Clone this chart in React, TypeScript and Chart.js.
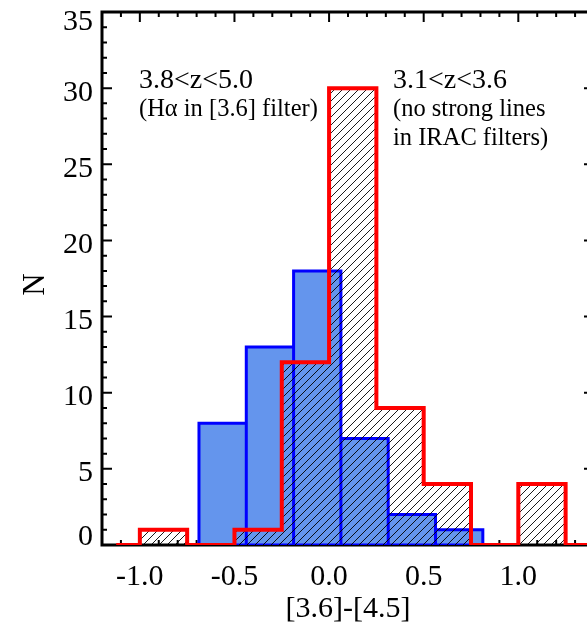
import React, { useEffect, useRef } from "react";
import { Chart, registerables } from "chart.js";

Chart.register(...registerables);

// ---------------- data ----------------
const binWidth = 0.25;
// red histogram (3.1<z<3.6), bins starting at -1.0
const redStart = -1.0;
const redCounts = [1, 0, 1, 12, 30, 9, 4, 0, 4];
// blue histogram (3.8<z<5.0), bins starting at -0.6875
const blueStart = -0.6875;
const blueCounts = [8, 13, 18, 7, 2, 1];

const xMin = -1.2;
const xMax = 1.4;
const yMin = 0;
const yMax = 35;
const xMajorTicks = [-1.0, -0.5, 0.0, 0.5, 1.0];
const xTickLabels = ["-1.0", "-0.5", "0.0", "0.5", "1.0"];
const yMajorTicks = [0, 5, 10, 15, 20, 25, 30, 35];
const yTickLabels = ["0", "5", "10", "15", "20", "25", "30", "35"];
const xTitle = "[3.6]-[4.5]";
const yTitle = "N";
const leftNote = ["3.8<z<5.0", "(H\u03b1 in [3.6] filter)"];
const rightNote = ["3.1<z<3.6", "(no strong lines", "in IRAC filters)"];

// ---------------- helpers ----------------
type Pt = { x: number; y: number };

function stepPoints(start: number, counts: number[], ext: boolean): Pt[] {
  const n = counts.length;
  const pts: Pt[] = [];
  pts.push({ x: ext ? start - binWidth / 2 : start, y: 0 });
  counts.forEach((c, i) => pts.push({ x: start + i * binWidth, y: c }));
  pts.push({ x: start + n * binWidth, y: 0 });
  if (ext) pts.push({ x: start + n * binWidth + binWidth / 2, y: 0 });
  return pts;
}

function barOutlinePoints(start: number, counts: number[]): Pt[] {
  const pts: Pt[] = [{ x: start, y: 0 }];
  counts.forEach((c, i) => {
    const l = start + i * binWidth;
    const r = l + binWidth;
    pts.push({ x: l, y: c });
    pts.push({ x: r, y: c });
    pts.push({ x: r, y: 0 });
  });
  pts.push({ x: start, y: 0 });
  return pts;
}

function makeHatch(): CanvasPattern | string {
  const s = 8;
  const c = document.createElement("canvas");
  c.width = s;
  c.height = s;
  const g = c.getContext("2d");
  if (!g) return "rgba(0,0,0,0)";
  g.strokeStyle = "#000";
  g.lineWidth = 0.9;
  g.beginPath();
  g.moveTo(-1, s + 1);
  g.lineTo(s + 1, -1);
  g.moveTo(-1, 1);
  g.lineTo(1, -1);
  g.moveTo(s - 1, s + 1);
  g.lineTo(s + 1, s - 1);
  g.stroke();
  const p = g.createPattern(c, "repeat");
  return p || "rgba(0,0,0,0)";
}

const FONT = '"Liberation Serif", "Times New Roman", serif';

const framePlugin = {
  id: "idlFrame",
  beforeDatasetsDraw(chart: any) {
    const { ctx, chartArea: a, scales } = chart;
    const xs = scales.x;
    const ys = scales.y;
    ctx.save();
    ctx.strokeStyle = "#000";
    ctx.lineWidth = 2;
    ctx.beginPath();
    const i0 = Math.round(xMin * 10);
    const i1 = Math.round(xMax * 10);
    for (let i = i0; i <= i1; i++) {
      const len = i % 5 === 0 ? 10 : 5;
      const px = xs.getPixelForValue(i / 10);
      ctx.moveTo(px, a.bottom);
      ctx.lineTo(px, a.bottom - len);
      ctx.moveTo(px, a.top);
      ctx.lineTo(px, a.top + len);
    }
    for (let v = yMin; v <= yMax; v++) {
      const len = v % 5 === 0 ? 10 : 5;
      const py = ys.getPixelForValue(v);
      ctx.moveTo(a.left, py);
      ctx.lineTo(a.left + len, py);
      ctx.moveTo(a.right, py);
      ctx.lineTo(a.right - len, py);
    }
    ctx.stroke();
    ctx.lineWidth = 3;
    ctx.strokeRect(a.left, a.top, a.right - a.left, a.bottom - a.top);
    ctx.restore();
  },
  afterDraw(chart: any) {
    const { ctx, chartArea: a, scales } = chart;
    const xs = scales.x;
    const ys = scales.y;
    ctx.save();
    ctx.fillStyle = "#000";
    // x tick labels
    ctx.font = `30px ${FONT}`;
    ctx.textAlign = "center";
    ctx.textBaseline = "alphabetic";
    xMajorTicks.forEach((v, i) => {
      ctx.fillText(xTickLabels[i], xs.getPixelForValue(v), a.bottom + 40);
    });
    // y tick labels
    ctx.textAlign = "right";
    yMajorTicks.forEach((v, i) => {
      const py = ys.getPixelForValue(v);
      let base = py + 12.5;
      if (v === yMin) base = py;
      if (v === yMax) base = py + 18;
      ctx.fillText(yTickLabels[i], a.left - 9, base);
    });
    // axis titles
    ctx.font = `30px ${FONT}`;
    ctx.textAlign = "center";
    ctx.fillText(xTitle, (a.left + a.right) / 2, a.bottom + 72);
    ctx.save();
    ctx.font = `31px ${FONT}`;
    ctx.translate(44, (a.top + a.bottom) / 2 + 6);
    ctx.rotate(-Math.PI / 2);
    ctx.fillText(yTitle, 0, 0);
    ctx.restore();
    // annotations
    ctx.textAlign = "left";
    ctx.font = `28px ${FONT}`;
    ctx.fillText(leftNote[0], 139, 88);
    ctx.fillText(rightNote[0], 393, 88);
    ctx.font = `24.5px ${FONT}`;
    ctx.fillText(leftNote[1], 139, 116);
    ctx.fillText(rightNote[1], 393, 116);
    ctx.fillText(rightNote[2], 393, 145);
    ctx.restore();
  },
};

export default function App() {
  const ref = useRef<HTMLCanvasElement>(null);

  useEffect(() => {
    const canvas = ref.current;
    if (!canvas) return;
    const hatch = makeHatch();
    const chart = new Chart(canvas, {
      type: "line",
      data: {
        datasets: [
          {
            label: "3.1<z<3.6",
            data: stepPoints(redStart, redCounts, true),
            stepped: "before",
            borderColor: "#ff0000",
            borderWidth: 4,
            backgroundColor: hatch as any,
            fill: "origin",
            pointRadius: 0,
            borderJoinStyle: "miter",
          },
          {
            label: "3.8<z<5.0 outline",
            data: barOutlinePoints(blueStart, blueCounts),
            stepped: "before",
            borderColor: "#0000ff",
            borderWidth: 3,
            fill: false,
            pointRadius: 0,
            borderJoinStyle: "miter",
          },
          {
            label: "3.8<z<5.0",
            data: stepPoints(blueStart, blueCounts, false),
            stepped: "before",
            borderColor: "rgba(0,0,0,0)",
            borderWidth: 1,
            backgroundColor: "#6495ed",
            fill: "origin",
            pointRadius: 0,
          },
        ],
      },
      options: {
        animation: false,
        responsive: false,
        devicePixelRatio: 1,
        layout: { padding: { left: 102, right: 6, top: 12, bottom: 80 } },
        plugins: {
          legend: { display: false },
          tooltip: { enabled: false },
          title: { display: false },
        },
        scales: {
          x: { type: "linear", min: xMin, max: xMax, display: false },
          y: { type: "linear", min: yMin, max: yMax, display: false },
        },
      },
      plugins: [framePlugin],
    });
    return () => chart.destroy();
  }, []);

  return (
    <div
      style={{
        position: "absolute",
        left: 0,
        top: 0,
        width: 587,
        height: 625,
        overflow: "hidden",
        background: "#fff",
      }}
    >
      <canvas ref={ref} width={600} height={625} style={{ display: "block", width: 600, height: 625 }} />
    </div>
  );
}
